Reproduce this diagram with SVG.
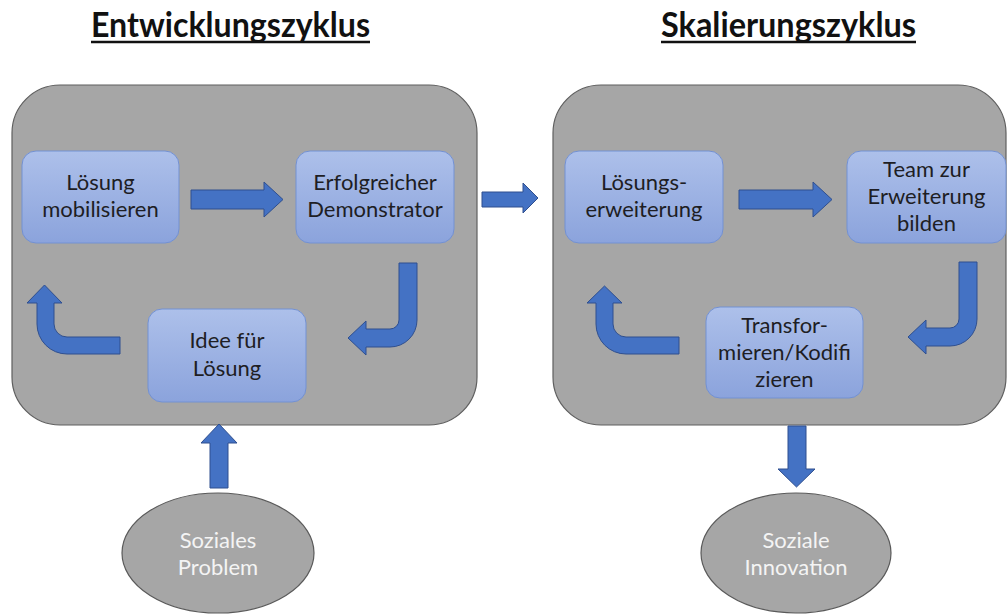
<svg xmlns="http://www.w3.org/2000/svg" width="1008" height="614" viewBox="0 0 1008 614">
<defs>
<linearGradient id="boxGrad" x1="0" y1="0" x2="0" y2="1">
<stop offset="0" stop-color="#adc0ea"/>
<stop offset="1" stop-color="#8ba3dc"/>
</linearGradient>
<style>
.title{font-family:Lato,"Liberation Sans",sans-serif;font-weight:bold;font-size:35px;fill:#111}
.ul{stroke:#111;stroke-width:2.5}
.panel{fill:#a6a6a6;stroke:#5f5f5f;stroke-width:1.2}
.box{fill:url(#boxGrad);stroke:#7391d2;stroke-width:1}
.btxt{font-family:Lato,"Liberation Sans",sans-serif;font-size:22px;fill:#1e1e24;text-anchor:middle}
.arr{fill:#4472c4;stroke:#2f4f8f;stroke-width:1}
.ell{fill:#a6a6a6;stroke:#5a5a5a;stroke-width:1.2}
.etxt{font-family:Lato,"Liberation Sans",sans-serif;font-size:22px;fill:#f4f4f4;text-anchor:middle}
</style>
</defs>
<rect width="1008" height="614" fill="#ffffff"/>

<g id="title-left">
<text class="title" x="91" y="37" textLength="279" lengthAdjust="spacingAndGlyphs">Entwicklungszyklus</text>
<line class="ul" x1="91" y1="42" x2="370" y2="42"/>
</g>
<g id="title-right">
<text class="title" x="661" y="37" textLength="255" lengthAdjust="spacingAndGlyphs">Skalierungszyklus</text>
<line class="ul" x1="661" y1="42" x2="916" y2="42"/>
</g>

<g id="panel-entwicklung"><rect class="panel" x="12" y="85" width="465" height="340" rx="48" ry="48"/></g>
<g id="panel-skalierung"><rect class="panel" x="553" y="85" width="453" height="340" rx="48" ry="48"/></g>

<g id="node-loesung-mobilisieren">
<rect class="box" x="22" y="151" width="157" height="92" rx="14"/>
<text class="btxt" x="100.5" y="190">Lösung</text>
<text class="btxt" x="100.5" y="217">mobilisieren</text>
</g>
<g id="node-demonstrator">
<rect class="box" x="296" y="151" width="158" height="92" rx="14"/>
<text class="btxt" x="375" y="190">Erfolgreicher</text>
<text class="btxt" x="375" y="217">Demonstrator</text>
</g>
<g id="node-idee">
<rect class="box" x="148" y="309" width="158" height="93" rx="14"/>
<text class="btxt" x="227" y="348">Idee für</text>
<text class="btxt" x="227" y="376">Lösung</text>
</g>

<g id="node-loesungserweiterung">
<rect class="box" x="565" y="151" width="158" height="92" rx="14"/>
<text class="btxt" x="644" y="190">Lösungs-</text>
<text class="btxt" x="644" y="217">erweiterung</text>
</g>
<g id="node-team">
<rect class="box" x="847" y="151" width="159" height="92" rx="14"/>
<text class="btxt" x="926.5" y="177">Team zur</text>
<text class="btxt" x="926.5" y="204">Erweiterung</text>
<text class="btxt" x="926.5" y="231">bilden</text>
</g>
<g id="node-transformieren">
<rect class="box" x="706" y="307" width="157" height="91" rx="14"/>
<text class="btxt" x="784.5" y="333">Transfor-</text>
<text class="btxt" x="784.5" y="360">mieren/Kodifi</text>
<text class="btxt" x="784.5" y="387">zieren</text>
</g>

<g id="node-soziales-problem">
<ellipse class="ell" cx="218" cy="553" rx="96" ry="60"/>
<text class="etxt" x="218" y="548">Soziales</text>
<text class="etxt" x="218" y="575">Problem</text>
</g>
<g id="node-soziale-innovation">
<ellipse class="ell" cx="796" cy="553" rx="95" ry="60"/>
<text class="etxt" x="796" y="548">Soziale</text>
<text class="etxt" x="796" y="575">Innovation</text>
</g>

<g id="connectors">
<path class="arr" d="M191,190 H264 V182 L283,199.5 L264,217 V209 H191 Z"/>
<path class="arr" d="M399,263 H417 V320 A27,27 0 0 1 390,347 H366 V355 L348,338 L366,321 V329 H390 A9,9 0 0 0 399,320 Z"/>
<path class="arr" d="M120,337 V354 H67 A30,30 0 0 1 37,324 V303 H27 L44.5,285 L62,303 H54 V324 A13,13 0 0 0 67,337 Z"/>
<path class="arr" d="M482,192 H523 V183 L538,198 L523,213 V207 H482 Z"/>
<path class="arr" d="M739,190 H813 V182 L832,199.5 L813,217 V209 H739 Z"/>
<path class="arr" d="M959,262 H977 V319 A27,27 0 0 1 950,346 H926 V354 L908,337 L926,320 V328 H950 A9,9 0 0 0 959,319 Z"/>
<path class="arr" d="M679,337 V354 H626 A30,30 0 0 1 596,324 V303 H587 L604.5,286 L622,303 H613 V324 A13,13 0 0 0 626,337 Z"/>
<path class="arr" d="M210,488 V443 H201 L219,424 L237,443 H228 V488 Z"/>
<path class="arr" d="M788,426 V469 H778 L796.5,487 L815,469 H806 V426 Z"/>
</g>
</svg>
